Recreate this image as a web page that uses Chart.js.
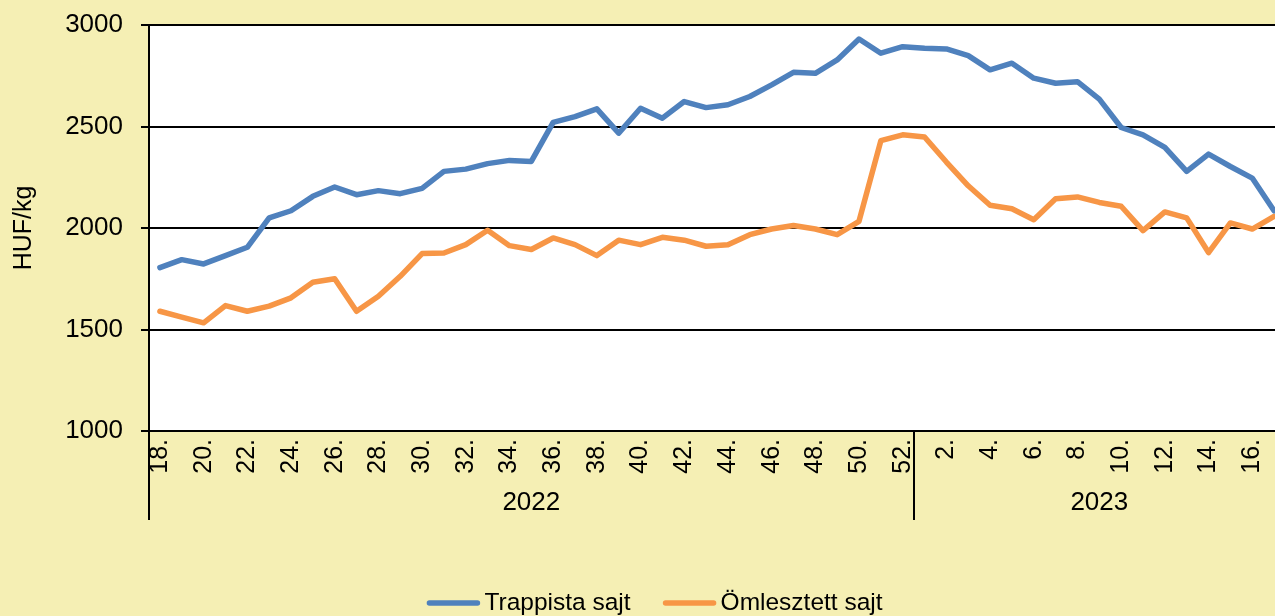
<!DOCTYPE html>
<html><head><meta charset="utf-8">
<script src="https://cdn.jsdelivr.net/npm/chart.js@4.4.1/dist/chart.umd.min.js"></script>
<style>
html,body{margin:0;padding:0;overflow:hidden;background:#F5EFB4;width:1275px;height:616px;}
#wrap{width:1285px;height:616px;}
canvas{display:block;}
</style></head><body>
<div id="wrap"><canvas id="c" width="1285" height="616"></canvas></div>
<script>
const years = ['2022', '2023'];
const weeks2022 = ['18.','19.','20.','21.','22.','23.','24.','25.','26.','27.','28.','29.','30.','31.','32.','33.','34.','35.','36.','37.','38.','39.','40.','41.','42.','43.','44.','45.','46.','47.','48.','49.','50.','51.','52.'];
const weeks2023 = ['1.','2.','3.','4.','5.','6.','7.','8.','9.','10.','11.','12.','13.','14.','15.','16.','17.'];
const trappista2022 = [1805,1844,1823,1864,1905,2050,2085,2156,2202,2164,2184,2169,2195,2279,2290,2317,2333,2328,2520,2549,2587,2467,2590,2541,2623,2593,2607,2648,2705,2767,2762,2828,2931,2861,2893];
const trappista2023 = [2885,2882,2849,2779,2812,2738,2713,2721,2635,2495,2459,2397,2279,2364,2303,2246,2085];
const omlesztett2022 = [1590,1561,1533,1618,1590,1615,1656,1733,1750,1590,1664,1762,1874,1877,1918,1989,1913,1894,1951,1918,1864,1940,1918,1954,1940,1910,1918,1967,1995,2012,1995,1967,2033,2430,2459];
const omlesztett2023 = [2448,2325,2208,2112,2095,2041,2144,2153,2126,2107,1987,2079,2050,1879,2025,1995,2057];
const yTicks = [1000, 1500, 2000, 2500, 3000];
const seriesNames = ['Trappista sajt', 'Ömlesztett sajt'];
const seriesColors = ['#4F81BD', '#F79646'];
const yTitle = 'HUF/kg';

const FONT = 'Liberation Sans, Arial, sans-serif';
const labels = weeks2022.concat(weeks2023);
const groups = [{name: years[0], n: weeks2022.length}, {name: years[1], n: weeks2023.length}];

const decor = {
  id: 'decor',
  beforeDraw(chart) {
    const {ctx, chartArea: a} = chart;
    ctx.save();
    ctx.fillStyle = '#FFFFFF';
    ctx.fillRect(a.left, a.top, a.right - a.left, a.bottom - a.top);
    ctx.restore();
  },
  afterDraw(chart) {
    const {ctx, chartArea: a} = chart;
    const xs = chart.scales.x;
    const step = xs.getPixelForValue(1) - xs.getPixelForValue(0);
    const lineBottom = a.bottom + 89;
    ctx.save();
    ctx.strokeStyle = '#000';
    ctx.lineWidth = 2;
    ctx.beginPath();
    ctx.moveTo(a.left, a.bottom);
    ctx.lineTo(a.left, lineBottom);
    let idx = 0;
    const centers = [];
    groups.forEach((g, gi) => {
      const x0 = xs.getPixelForValue(idx) - step / 2;
      const x1 = xs.getPixelForValue(idx + g.n - 1) + step / 2;
      centers.push((x0 + x1) / 2);
      if (gi < groups.length - 1) {
        ctx.moveTo(Math.round(x1), a.bottom);
        ctx.lineTo(Math.round(x1), lineBottom);
      }
      idx += g.n;
    });
    ctx.stroke();
    ctx.fillStyle = '#000';
    ctx.font = '26px ' + FONT;
    ctx.textAlign = 'center';
    ctx.textBaseline = 'middle';
    groups.forEach((g, gi) => ctx.fillText(g.name, centers[gi], a.bottom + 72));

    // legend
    ctx.font = '24.5px ' + FONT;
    const sw = 52, gapText = 5, gapItem = 33;
    const widths = seriesNames.map(n => ctx.measureText(n).width);
    let total = 0;
    widths.forEach((w, i) => { total += sw + gapText + w + (i ? gapItem : 0); });
    let x = 655 - total / 2;
    const ly = 603;
    ctx.textAlign = 'left';
    seriesNames.forEach((n, i) => {
      ctx.strokeStyle = seriesColors[i];
      ctx.lineWidth = 5.5;
      ctx.lineCap = 'round';
      ctx.beginPath();
      ctx.moveTo(x + 2, ly);
      ctx.lineTo(x + sw - 2, ly);
      ctx.stroke();
      ctx.fillStyle = '#000';
      ctx.fillText(n, x + sw + gapText, ly);
      x += sw + gapText + widths[i] + gapItem;
    });
    ctx.restore();
  }
};

new Chart(document.getElementById('c'), {
  type: 'line',
  data: {
    labels: labels,
    datasets: [
      {label: seriesNames[0], data: trappista2022.concat(trappista2023), borderColor: seriesColors[0], backgroundColor: seriesColors[0], borderWidth: 5.5, pointRadius: 0, tension: 0, borderJoinStyle: 'round', borderCapStyle: 'round'},
      {label: seriesNames[1], data: omlesztett2022.concat(omlesztett2023), borderColor: seriesColors[1], backgroundColor: seriesColors[1], borderWidth: 5.5, pointRadius: 0, tension: 0, borderJoinStyle: 'round', borderCapStyle: 'round'}
    ]
  },
  options: {
    responsive: false,
    animation: false,
    devicePixelRatio: 1,
    layout: {padding: {top: 25, left: 0, right: 0, bottom: 0}},
    plugins: {legend: {display: false}, tooltip: {enabled: false}},
    scales: {
      x: {
        type: 'category',
        offset: true,
        grid: {display: false},
        border: {display: true, color: '#000', width: 2},
        ticks: {
          autoSkip: false, minRotation: 90, maxRotation: 90, padding: 0,
          color: '#000', font: {size: 25, family: FONT},
          callback: function(v) { const l = this.getLabelForValue(v); return parseInt(l) % 2 === 0 ? l : ''; }
        },
        afterFit(s) { s.height = 185; s.paddingLeft = 0; s.paddingRight = 0; }
      },
      y: {
        min: yTicks[0], max: yTicks[yTicks.length - 1],
        grid: {color: '#000', lineWidth: 2, tickLength: 8, drawTicks: true},
        border: {display: true, color: '#000', width: 2},
        ticks: {stepSize: yTicks[1] - yTicks[0], padding: 18, color: '#000', font: {size: 26, family: FONT},
          callback: v => String(v)},
        title: {display: true, text: yTitle, color: '#000', font: {size: 25, family: FONT}, padding: {top: 9, bottom: 0}},
        afterFit(s) { s.width = 149; s.paddingTop = 0; s.paddingBottom = 0; }
      }
    }
  },
  plugins: [decor]
});
</script>
</body></html>
